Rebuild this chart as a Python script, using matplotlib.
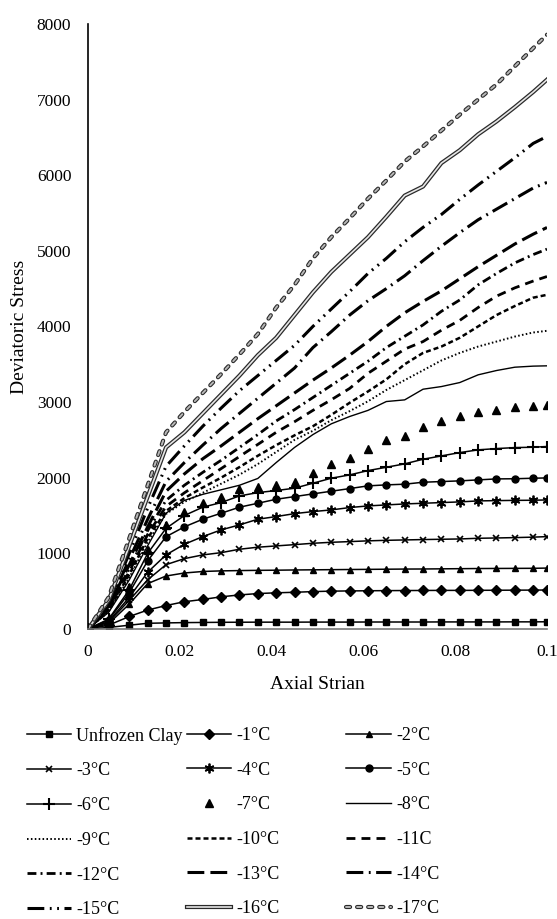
import matplotlib
matplotlib.use("Agg")
import matplotlib.pyplot as plt
import matplotlib.patheffects as pe

plt.rcParams['font.family'] = ['Liberation Serif', 'DejaVu Serif']

# axial strain (same sampling for every test)
strain = [0, 0.0045, 0.009, 0.013, 0.017, 0.021, 0.025, 0.029, 0.033, 0.037,
          0.041, 0.045, 0.049, 0.053, 0.057, 0.061, 0.065, 0.069, 0.073, 0.077,
          0.081, 0.085, 0.089, 0.093, 0.097, 0.1]

# deviatoric stress for each temperature
unfrozen = [0, 20, 50, 75, 80, 84, 86, 88, 89, 90, 90, 90, 91, 91, 91, 92, 92, 92, 92, 93,
            93, 93, 93, 94, 94, 95]
t1 = [0, 50, 165, 250, 310, 360, 390, 425, 450, 468, 478, 485, 494, 500, 503, 505, 507, 508,
      509, 510, 510, 511, 512, 513, 514, 515]
t2 = [0, 70, 330, 600, 700, 740, 760, 768, 772, 775, 777, 780, 782, 784, 786, 788, 790, 792,
      793, 795, 797, 799, 800, 801, 802, 805]
t3 = [0, 90, 380, 650, 850, 930, 979, 1009, 1054, 1081, 1098, 1115, 1133, 1146, 1155, 1165,
      1172, 1177, 1182, 1186, 1190, 1199, 1203, 1208, 1214, 1221]
t4 = [0, 100, 420, 750, 980, 1120, 1221, 1310, 1376, 1451, 1486, 1525, 1552, 1574, 1605, 1627,
      1640, 1653, 1662, 1671, 1680, 1693, 1697, 1700, 1702, 1706]
t5 = [0, 120, 480, 900, 1220, 1350, 1451, 1530, 1610, 1662, 1715, 1750, 1786, 1821, 1856, 1892,
      1905, 1914, 1940, 1949, 1958, 1971, 1984, 1986, 1993, 1997]
t6 = [0, 130, 520, 1000, 1330, 1500, 1610, 1671, 1759, 1803, 1830, 1861, 1927, 1993, 2037, 2094,
      2138, 2183, 2244, 2288, 2332, 2368, 2385, 2398, 2403, 2412]
t7 = [0, 150, 550, 1050, 1380, 1550, 1662, 1750, 1847, 1882, 1905, 1949, 2068, 2183, 2258, 2385,
      2500, 2553, 2668, 2756, 2817, 2870, 2897, 2932, 2950, 2963]
t8 = [0, 220, 650, 1100, 1530, 1700, 1780, 1840, 1900, 1990, 2200, 2400, 2570, 2712, 2809, 2890,
      3007, 3029, 3170, 3205, 3258, 3360, 3417, 3461, 3475, 3479]
t9 = [0, 230, 680, 1150, 1520, 1680, 1800, 1920, 2040, 2180, 2340, 2500, 2620, 2760, 2880, 3010,
      3160, 3290, 3420, 3550, 3650, 3734, 3800, 3866, 3920, 3942]
t10 = [0, 250, 720, 1200, 1560, 1730, 1870, 2000, 2140, 2290, 2430, 2560, 2680, 2830, 2990, 3140,
       3300, 3500, 3650, 3734, 3850, 4000, 4150, 4270, 4380, 4418]
t11 = [0, 260, 760, 1250, 1620, 1800, 1960, 2120, 2280, 2440, 2600, 2740, 2890, 3030, 3180, 3380,
       3540, 3700, 3800, 3950, 4080, 4250, 4400, 4510, 4600, 4660]
t12 = [0, 280, 800, 1300, 1700, 1900, 2070, 2230, 2400, 2570, 2750, 2900, 3060, 3220, 3380, 3540,
       3720, 3870, 4020, 4200, 4350, 4550, 4700, 4840, 4950, 5022]
t13 = [0, 300, 850, 1350, 1820, 2050, 2250, 2420, 2600, 2780, 2950, 3120, 3290, 3450, 3620, 3800,
       4000, 4180, 4330, 4470, 4630, 4790, 4940, 5090, 5220, 5308]
t14 = [0, 320, 920, 1450, 1950, 2200, 2430, 2650, 2850, 3050, 3250, 3450, 3720, 3930, 4150, 4340,
       4500, 4670, 4870, 5060, 5240, 5410, 5550, 5690, 5830, 5904]
t15 = [0, 350, 1000, 1600, 2150, 2420, 2680, 2920, 3150, 3350, 3550, 3750, 4000, 4230, 4460, 4700,
       4900, 5120, 5310, 5480, 5680, 5870, 6050, 6230, 6420, 6512]
t16 = [0, 380, 1100, 1750, 2400, 2600, 2850, 3100, 3350, 3620, 3850, 4150, 4450, 4720, 4950, 5180,
       5450, 5730, 5850, 6160, 6330, 6540, 6710, 6900, 7100, 7262]
t17 = [0, 420, 1200, 1900, 2600, 2870, 3120, 3370, 3630, 3900, 4250, 4550, 4900, 5180, 5430, 5690,
       5930, 6180, 6380, 6590, 6800, 7000, 7200, 7440, 7680, 7857]

labels = ['Unfrozen Clay', '-1°C', '-2°C', '-3°C', '-4°C', '-5°C', '-6°C', '-7°C', '-8°C',
          '-9°C', '-10°C', '-11C', '-12°C', '-13°C', '-14°C', '-15°C', '-16°C', '-17°C']
x_ticks = [0, 0.02, 0.04, 0.06, 0.08, 0.1]
x_tick_labels = ['0', '0.02', '0.04', '0.06', '0.08', '0.1']

fig = plt.figure(figsize=(5.57, 9.19), dpi=100)
ax = fig.add_axes([0.158, 0.3156, 0.824, 0.6584])

k = dict(color='black', lw=1.1, ms=5)
handles = []
handles += ax.plot(strain, unfrozen, marker='s', **k)
handles += ax.plot(strain, t1, marker='D', **k)
handles += ax.plot(strain, t2, marker='^', **k)
handles += ax.plot(strain, t3, marker='x', mew=1.2, **k)
handles += ax.plot(strain, t4, marker=(6, 2, 0), mew=1.3, color='black', lw=1.1, ms=7)
handles += ax.plot(strain, t5, marker='o', **k)
handles += ax.plot(strain, t6, marker='+', mew=1.5, color='black', lw=1.1, ms=8)
handles += ax.plot(strain, t7, marker='^', ls='none', color='black', ms=6)
handles += ax.plot(strain, t8, color='black', lw=1.0)
handles += ax.plot(strain, t9, color='black', lw=1.4, dashes=(0.8, 1.2))
handles += ax.plot(strain, t10, color='black', lw=1.8, dashes=(2.0, 1.2))
handles += ax.plot(strain, t11, color='black', lw=2.0, dashes=(3.2, 2.2))
handles += ax.plot(strain, t12, color='black', lw=2.0, dashes=(3.2, 1.5, 0.7, 1.5))
handles += ax.plot(strain, t13, color='black', lw=2.2, dashes=(5.5, 2.0))
handles += ax.plot(strain, t14, color='black', lw=2.2, dashes=(5.5, 1.8, 0.6, 1.8))
handles += ax.plot(strain, t15, color='black', lw=2.2, dashes=(5.5, 1.8, 0.6, 1.8, 0.6, 1.8))
handles += ax.plot(strain, t16, color='#e6e6e6', lw=1.2,
                   path_effects=[pe.Stroke(linewidth=3.0, foreground='#2a2a2a'), pe.Normal()])
handles += ax.plot(strain, t17, color='#b8b8b8', lw=1.4, dashes=(2.1, 3.6),
                   dash_capstyle='round',
                   path_effects=[pe.Stroke(linewidth=3.0, foreground='#2a2a2a'), pe.Normal()])

ax.set_xlim(0, 0.1)
ax.set_ylim(0, 8000)
ax.set_xticks(x_ticks)
ax.set_xticklabels(x_tick_labels)
ax.set_yticks(range(0, 8001, 1000))
ax.tick_params(axis='both', length=0, labelsize=12.5)
ax.tick_params(axis='y', pad=12)
ax.tick_params(axis='x', pad=11)
for s in ['top', 'right']:
    ax.spines[s].set_visible(False)
ax.spines['left'].set_linewidth(1.2)
ax.spines['bottom'].set_linewidth(1.2)
ax.spines['bottom'].set_color('#777777')
ax.set_xlabel('Axial Strian', fontsize=14, labelpad=11)
ax.set_ylabel('Deviatoric Stress', fontsize=14, labelpad=6.5)

# legend laid out row by row in three equal columns
for c, x0 in enumerate([0.048, 0.335, 0.622]):
    fig.legend(handles[c::3], labels[c::3], loc='upper left', bbox_to_anchor=(x0, 0.209),
               frameon=False, fontsize=13, handlelength=2.45, handletextpad=0.3,
               labelspacing=0.98, borderaxespad=0, borderpad=0)

fig.savefig('out.png', dpi=100)
